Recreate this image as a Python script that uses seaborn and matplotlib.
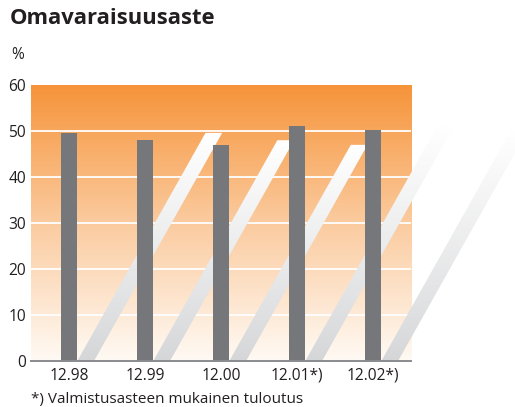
import numpy as np
import matplotlib
matplotlib.use('Agg')
import matplotlib.pyplot as plt
import seaborn as sns
from matplotlib.colors import LinearSegmentedColormap
from matplotlib.patches import Polygon

# data
years = ['12.98', '12.99', '12.00', '12.01*)', '12.02*)']
equity_ratio = [49.6, 48.0, 47.0, 51.1, 50.2]
y_ticks = [0, 10, 20, 30, 40, 50, 60]

sns.set_theme(style='white')
plt.rcParams['font.family'] = ['Open Sans', 'DejaVu Sans']
txt = '#231f20'

fig = plt.figure(figsize=(5.15, 4.07), dpi=100)
ax = fig.add_axes([0.060, 0.113, 0.738, 0.678])

bar_w = 0.22
sns.barplot(x=years, y=equity_ratio, order=years, color='#76777b', saturation=1,
            width=bar_w, linewidth=0, edgecolor='none', ax=ax, zorder=4)

ax.set_xlim(-0.5, 4.5)
ax.set_ylim(0, 60)

# orange gradient background
bg = LinearSegmentedColormap.from_list('bg', ['#fffaf4', '#fbcb9f', '#f6943a'])
grad = np.linspace(0, 1, 256).reshape(-1, 1)
ax.imshow(grad, cmap=bg, origin='lower', extent=(-0.5, 4.5, 0, 60), aspect='auto', zorder=0)

for t in y_ticks[1:-1]:
    ax.axhline(t, color='white', lw=1.3, zorder=1)

# decorative sheared stripes behind bars
stripe_cm = LinearSegmentedColormap.from_list('st', ['#d5d6d8', '#ffffff'])
k = 0.034
for i, h in enumerate(equity_ratio):
    x0 = i + bar_w / 2
    poly = Polygon([(x0, 0), (x0 + bar_w, 0), (x0 + bar_w + k * h, h), (x0 + k * h, h)],
                   closed=True, transform=ax.transData, facecolor='none', edgecolor='none')
    ax.add_patch(poly)
    poly.set_clip_on(False)
    im = ax.imshow(np.linspace(0, 1, 256).reshape(-1, 1) ** 0.9, cmap=stripe_cm, origin='lower',
                   extent=(x0, x0 + bar_w + k * h, 0, h), aspect='auto', zorder=2)
    im.set_clip_box(fig.bbox)
    im.set_clip_path(poly)

ax.set_xlim(-0.5, 4.5)
ax.set_ylim(0, 60)
ax.set_yticks(y_ticks)
ax.set_xlabel('')
ax.set_ylabel('')
ax.tick_params(axis='both', length=0, labelsize=11.2, colors=txt)
ax.tick_params(axis='y', pad=3.5)
ax.tick_params(axis='x', pad=5)
for s in ['left', 'right', 'top']:
    ax.spines[s].set_visible(False)
ax.spines['bottom'].set_color('#8a8b8e')
ax.spines['bottom'].set_linewidth(1.4)
ax.spines['bottom'].set_zorder(5)

fig.text(10 / 515, 1 - 19 / 407, 'Omavaraisuusaste', fontsize=15.8, fontweight='bold',
         color=txt, va='center', ha='left')
fig.text(11 / 515, 1 - 55 / 407, '%', fontsize=11.2, color=txt, va='center', ha='left')
fig.text(31 / 515, 1 - 400 / 407, '*) Valmistusasteen mukainen tuloutus', fontsize=11,
         color=txt, va='center', ha='left')

fig.savefig('out.png', dpi=100)
